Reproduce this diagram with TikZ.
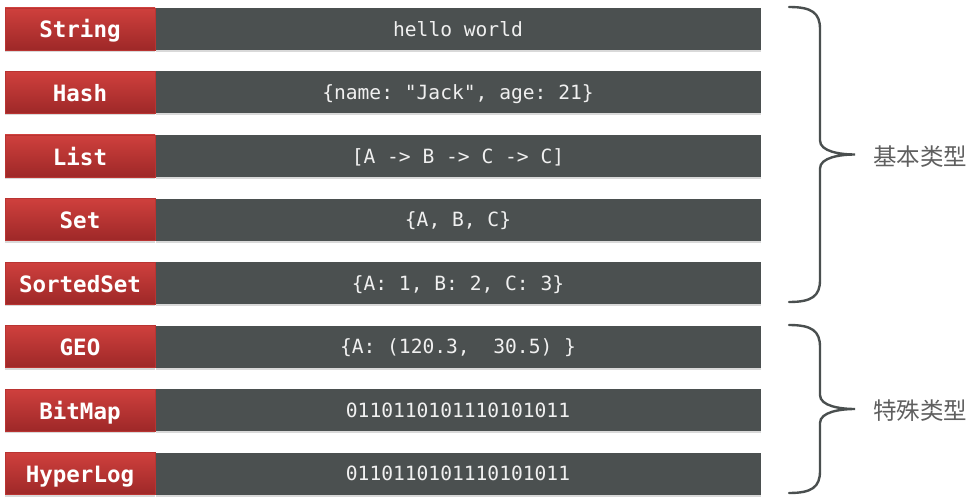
\documentclass[tikz,border=0pt]{standalone}
\usepackage{fontspec}
\setmonofont{DejaVu Sans Mono}
\newfontfamily\cjk{Noto Sans CJK SC}
\usetikzlibrary{positioning,shadows}
\definecolor{keytop}{RGB}{207,64,61}
\definecolor{keybot}{RGB}{158,40,40}
\definecolor{keyedge}{RGB}{185,52,50}
\definecolor{valgrey}{RGB}{75,80,80}
\definecolor{valtext}{RGB}{240,240,240}
\definecolor{bracegrey}{RGB}{74,79,79}
\definecolor{labelgrey}{RGB}{95,95,95}

\newcommand{\typebrace}[4]{%
  \pgfmathsetmacro\bmid{(#1+#2)/2}
  \draw[bracestyle] (789,#1) .. controls (812,#1) and (820,#1+6) .. (820,#1+22)
    -- (820,\bmid-14) .. controls (820,\bmid-3) and (840,\bmid) .. (855,\bmid) coordinate (#4)
    .. controls (840,\bmid) and (820,\bmid+3) .. (820,\bmid+14)
    -- (820,#2-22) .. controls (820,#2-6) and (812,#2) .. (789,#2);
  \node[grouplabel, right=18pt of #4, yshift=-2pt] (#4label) {#3};
}

\begin{document}
\begin{tikzpicture}[x=1pt, y=-1pt,
    keybox/.style={minimum width=150pt, minimum height=42pt, inner sep=0pt, draw=keyedge, line width=0.6pt,
      top color=keytop, bottom color=keybot, text=white, text height=18pt, text depth=0pt,
      font=\ttfamily\bfseries\fontsize{22.5}{24}\selectfont,
      drop shadow={shadow xshift=0pt, shadow yshift=-2pt, opacity=0.3}},
    valbox/.style={minimum width=605pt, minimum height=42pt, inner sep=0pt, fill=valgrey, text=valtext,
      text height=14.5pt, text depth=0pt, font=\ttfamily\fontsize{19.6}{22}\selectfont,
      drop shadow={shadow xshift=0pt, shadow yshift=-2pt, opacity=0.3}},
    bracestyle/.style={draw=bracegrey, line width=2.4pt, line cap=round},
    grouplabel/.style={inner sep=0pt, text=labelgrey, font=\cjk\fontsize{23.5}{26}\selectfont}]
  \useasboundingbox (0,0) rectangle (977,500);
  \foreach \key/\val [count=\i from 0] in {
      String/hello world,
      Hash/{\{name: "Jack", age: 21\}},
      List/{[A -> B -> C -> C]},
      Set/{\{A, B, C\}},
      SortedSet/{\{A: 1, B: 2, C: 3\}},
      GEO/{\{A: (120.3,~~30.5) \}},
      BitMap/0110110101110101011,
      HyperLog/0110110101110101011}
  {
    \node[keybox] (k\i) at (80,29+63.5*\i) {\key};
    \node[valbox, right=0pt of k\i] (v\i) {\val};
  }
  \typebrace{7}{302}{基本类型}{basic}
  \typebrace{325}{493}{特殊类型}{special}
\end{tikzpicture}
\end{document}
